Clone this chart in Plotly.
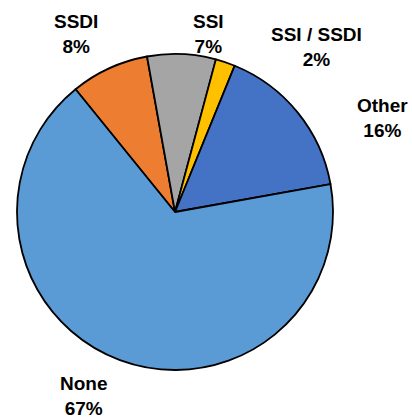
import plotly.graph_objects as go

categories = ["SSDI", "SSI", "SSI / SSDI", "Other", "None"]
values = [8, 7, 2, 16, 67]
colors = ["#ED7D31", "#A5A5A5", "#FFC000", "#4472C4", "#5B9BD5"]

W, H = 412, 419
cx, cy, r = 175, 212, 158  # pie center/radius in pixels (from top-left)

fig = go.Figure(go.Pie(
    labels=categories,
    values=values,
    sort=False,
    direction="clockwise",
    rotation=-39,
    marker=dict(colors=colors, line=dict(color="black", width=1.8)),
    textinfo="none",
    hoverinfo="label+percent",
    showlegend=False,
    domain=dict(x=[(cx - r) / W, (cx + r) / W],
                y=[(H - cy - r) / H, (H - cy + r) / H]),
))

# label centers in pixels
label_pos = {"SSDI": (76, 34), "SSI": (208, 34), "SSI / SSDI": (316, 47),
             "Other": (382, 118), "None": (84, 396)}
total = sum(values)
for cat, v in zip(categories, values):
    px, py = label_pos[cat]
    fig.add_annotation(
        x=px / W, y=1 - py / H, xref="paper", yref="paper",
        text=f"<b>{cat}<br>{round(100 * v / total)}%</b>",
        showarrow=False, xanchor="center", yanchor="middle",
        font=dict(family="Liberation Sans Narrow, Arial Narrow, Liberation Sans, Arial", size=19, color="black"),
    )

fig.update_layout(
    width=W, height=H,
    margin=dict(l=0, r=0, t=0, b=0),
    paper_bgcolor="white", plot_bgcolor="white",
)
fig.write_html("out.html", config={"displayModeBar": False})

with open("out.html", encoding="utf-8") as f:
    html = f.read()
html = html.replace("<body>", '<body style="margin:0;padding:0;overflow:hidden">', 1)
with open("out.html", "w", encoding="utf-8") as f:
    f.write(html)
